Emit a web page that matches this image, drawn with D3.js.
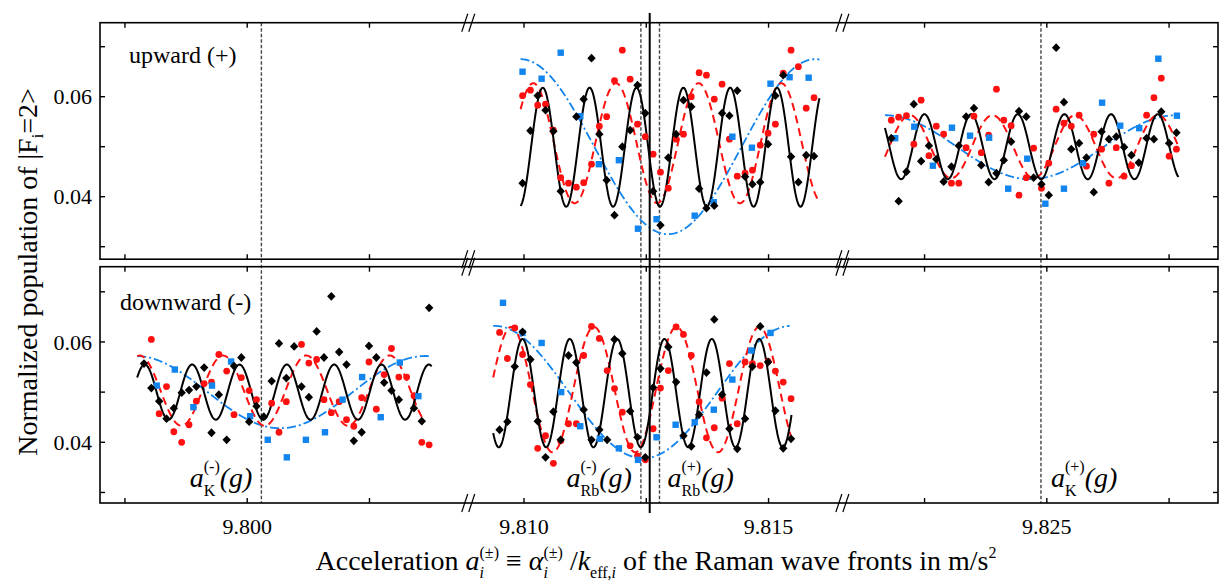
<!DOCTYPE html>
<html><head><meta charset="utf-8">
<script src="https://cdn.jsdelivr.net/npm/d3@7"></script>
<style>
body{margin:0;background:#fff}
svg{display:block}
text{font-family:"Liberation Serif","Times New Roman",serif;fill:#000}
</style>
</head><body>
<svg id="chart" width="1220" height="584" font-family="Liberation Serif, Times New Roman, serif"></svg>
<script>
// ---------------- DATA ----------------
// broken x axis: three segments (m/s^2)
const xSegments = [[9.79699, 9.80453], [9.80887, 9.81652], [9.82083, 9.82850]];
const yDomainUp = [0.0275, 0.0748];
const yDomainDown = [0.0279, 0.0750];
const xTicks = [9.7975, 9.800, 9.8025, 9.810, 9.8125, 9.815, 9.8225, 9.825, 9.8275];
const xTickLabels = ["", "9.800", "", "9.810", "", "9.815", "", "9.825", ""];
const yTicks = [0.03, 0.04, 0.05, 0.06, 0.07];
const yTickLabels = ["", "0.04", "", "0.06", ""];
// reference accelerations
const refDashed = [9.80029, 9.81239, 9.81277, 9.82488];
const refSolid = 9.81257;

// ---- upward (+), middle segment ----
const upSeg2X = [9.80997,9.81013,9.81028,9.81044,9.81060,9.81075,9.81091,9.81107,9.81122,9.81138,9.81154,9.81169,9.81185,9.81201,9.81217,9.81232,9.81248,9.81264,9.81279,9.81295,9.81311,9.81326,9.81342,9.81358,9.81373,9.81389,9.81405,9.81420,9.81436,9.81452,9.81467,9.81483,9.81499,9.81514,9.81530,9.81546,9.81561,9.81577,9.81593];
const upSeg2Black = [0.0427,0.0532,0.0602,0.0573,0.0531,0.0411,null,0.0560,0.0595,0.0677,0.0525,0.0433,0.0363,0.0500,0.0533,0.0623,0.0567,0.0411,0.0343,0.0478,0.0525,0.0593,0.0580,0.0416,0.0377,0.0382,0.0567,0.0562,0.0612,0.0440,0.0425,0.0429,0.0505,0.0602,0.0643,0.0480,0.0429,0.0483,0.0481];
const upSeg2Red = [0.0602,0.0613,0.0583,0.0585,0.0533,0.0438,0.0427,0.0419,0.0428,0.0465,0.0541,0.0560,0.0632,0.0693,0.0635,0.0545,0.0520,0.0485,0.0449,0.0417,0.0515,0.0525,0.0600,0.0648,0.0643,0.0595,0.0625,0.0515,0.0441,0.0447,0.0453,0.0503,0.0527,0.0545,0.0647,0.0693,0.0660,0.0577,0.0598];
const upSeg2BlueX = [9.80997,9.81036,9.81075,9.81115,9.81153,9.81194,9.81233,9.81271,9.81349,9.81388,9.81426,9.81466,9.81504,9.81543,9.81582];
const upSeg2Blue = [0.0650,0.0636,0.0688,0.0561,0.0465,0.0473,0.0336,0.0355,0.0362,0.0389,0.0520,0.0498,0.0626,0.0639,0.0638];

// ---- upward (+), right segment ----
const upSeg3X = [9.82182,9.82197,9.82213,9.82228,9.82243,9.82259,9.82274,9.82289,9.82305,9.82320,9.82335,9.82351,9.82366,9.82381,9.82397,9.82412,9.82427,9.82443,9.82458,9.82473,9.82489,9.82504,9.82519,9.82535,9.82550,9.82566,9.82581,9.82596,9.82612,9.82627,9.82642,9.82658,9.82673,9.82688,9.82704,9.82719,9.82734,9.82750,9.82765];
const upSeg3Black = [0.0517,0.0391,0.0450,0.0585,0.0471,0.0502,0.0475,0.0430,0.0460,0.0502,0.0560,0.0577,0.0463,0.0429,0.0447,0.0473,0.0510,0.0571,0.0560,0.0438,0.0425,0.0403,0.0698,0.0589,0.0495,0.0507,0.0478,0.0409,0.0530,0.0515,0.0520,0.0499,0.0483,0.0468,0.0517,0.0515,0.0570,0.0507,0.0528];
const upSeg3Red = [0.0553,0.0559,0.0562,0.0505,0.0593,0.0482,0.0541,0.0525,0.0427,0.0427,0.0498,0.0561,0.0488,0.0523,0.0615,0.0553,0.0542,0.0403,0.0438,0.0497,0.0417,0.0467,0.0575,0.0547,0.0541,0.0563,0.0461,0.0525,0.0495,0.0427,0.0498,0.0441,0.0462,null,0.0563,0.0598,0.0637,0.0481,0.0495];
const upSeg3BlueX = [9.82190,9.82229,9.82267,9.82306,9.82343,9.82382,9.82421,9.82460,9.82497,9.82535,9.82574,9.82613,9.82650,9.82689,9.82728,9.82766];
const upSeg3Blue = [0.0517,0.0540,0.0462,0.0538,0.0522,0.0518,0.0416,0.0476,0.0386,0.0416,0.0467,0.0588,0.0542,0.0537,0.0676,0.0562];

// ---- downward (-), left segment ----
const loSeg1X = [9.79789,9.79804,9.79820,9.79835,9.79850,9.79866,9.79881,9.79896,9.79912,9.79927,9.79942,9.79958,9.79973,9.79988,9.80004,9.80019,9.80034,9.80050,9.80065,9.80080,9.80096,9.80111,9.80126,9.80142,9.80157,9.80172,9.80188,9.80203,9.80218,9.80234,9.80249,9.80264,9.80280,9.80295,9.80310,9.80326,9.80341,9.80357,9.80372];
const loSeg1Black = [0.0557,0.0508,0.0482,0.0447,0.0468,0.0499,0.0504,0.0511,0.0549,0.0419,0.0495,0.0405,0.0552,0.0569,0.0441,0.0472,0.0451,0.0522,0.0597,0.0528,0.0591,0.0511,0.0490,0.0621,0.0569,0.0691,0.0580,0.0555,0.0403,0.0420,0.0592,0.0569,0.0519,0.0503,0.0485,null,0.0468,0.0442,0.0668];
const loSeg1Red = [null,0.0605,0.0457,0.0511,0.0421,0.0400,0.0435,0.0482,0.0517,0.0520,0.0575,0.0542,0.0455,0.0529,0.0503,0.0485,null,0.0478,0.0420,0.0481,null,0.0595,0.0558,0.0565,0.0485,0.0459,0.0481,0.0445,0.0432,0.0489,0.0560,0.0466,0.0535,0.0587,0.0530,0.0530,0.0493,0.0400,0.0395];
const loSeg1BlueX = [9.79815,9.79852,9.79890,9.79928,9.79967,9.80006,9.80042,9.80081,9.80120,9.80159,9.80195,9.80235,9.80273,9.80312,9.80350];
const loSeg1Blue = [0.0513,0.0545,0.0470,0.0513,0.0561,0.0452,0.0405,0.0370,0.0405,0.0420,0.0485,0.0530,0.0450,0.0559,0.0492];

// ---- downward (-), middle segment ----
const loSeg2X = [9.80950,9.80966,9.80981,9.80997,9.81013,9.81028,9.81044,9.81060,9.81075,9.81091,9.81107,9.81122,9.81138,9.81154,9.81170,9.81185,9.81201,9.81217,9.81232,9.81248,9.81264,9.81279,9.81295,9.81311,9.81326,9.81342,9.81358,9.81373,9.81389,9.81405,9.81420,9.81436,9.81452,9.81467,9.81483,9.81499,9.81514,9.81530,9.81546];
const loSeg2Black = [0.0425,0.0441,0.0551,0.0620,0.0565,0.0442,0.0370,0.0461,0.0405,0.0573,0.0559,0.0465,0.0405,0.0425,0.0405,0.0605,0.0577,0.0462,0.0410,0.0370,0.0509,0.0547,0.0590,0.0520,0.0413,0.0392,0.0455,0.0539,0.0645,0.0495,0.0427,0.0387,0.0447,0.0551,0.0631,0.0560,0.0463,0.0388,0.0407];
const loSeg2Red = [0.0619,0.0567,0.0628,0.0575,0.0515,0.0388,0.0413,0.0358,0.0403,0.0437,0.0437,0.0573,0.0631,0.0607,0.0543,0.0507,0.0460,0.0393,0.0373,0.0365,0.0427,0.0508,0.0543,0.0630,0.0615,0.0573,0.0481,0.0409,0.0429,0.0488,0.0557,0.0437,0.0560,0.0557,0.0553,0.0561,0.0542,0.0520,0.0487];
const loSeg2BlueX = [9.80957,9.80997,9.81036,9.81076,9.81115,9.81155,9.81194,9.81233,9.81271,9.81310,9.81349,9.81388,9.81426,9.81465,9.81504];
const loSeg2Blue = [0.0678,0.0618,0.0598,0.0500,0.0432,0.0407,0.0388,0.0365,0.0410,0.0435,0.0440,0.0465,0.0525,0.0583,0.0618];

// fitted fringes: [offset, amplitude, period, position of a maximum, x start, x end]
const upFitBlack2 = [0.0499, 0.0119, 0.000958, 9.81230, 9.80993, 9.81604];
const upFitRed2   = [0.0507, 0.0120, 0.00169, 9.81188, 9.80993, 9.81604];
const upFitBlue2  = [0.0500, 0.0175, 0.006026, 9.80993, 9.80993, 9.81604];
const upFitBlack3 = [0.0500, 0.0065, 0.000954, 9.82536, 9.82169, 9.82769];
const upFitRed3   = [0.0500, 0.0063, 0.00169, 9.82727, 9.82169, 9.82769];
const upFitBlue3  = [0.0499, 0.0064, 0.005965, 9.82168, 9.82169, 9.82769];
const loFitBlack1 = [0.0500, 0.0055, 0.000968, 9.80081, 9.79775, 9.80377];
const loFitRed1   = [0.0503, 0.0070, 0.001704, 9.80121, 9.79775, 9.80363];
const loFitBlue1  = [0.0500, 0.0072, 0.00593, 9.79771, 9.79775, 9.80374];
const loFitBlack2 = [0.0498, 0.0108, 0.000968, 9.81384, 9.80937, 9.81547];
const loFitRed2   = [0.0505, 0.0125, 0.00169, 9.81312, 9.80937, 9.81547];
const loFitBlue2  = [0.0500, 0.0132, 0.00607, 9.80940, 9.80937, 9.81543];

// ---------------- LAYOUT ----------------
const FONT = "Liberation Serif, Times New Roman, serif";
const NB = "\u00a0";
const svg = d3.select("#chart");
const L = 100, R = 1218;
const panels = [
  {name:"upward" + NB + "(+)", top:22.7, bottom:259.2, dom:yDomainUp, lx:129, ly:63},
  {name:"downward" + NB + "(-)", top:266.7, bottom:503, dom:yDomainDown, lx:120, ly:310}
];
const COL = {black:"#000000", red:"#ff1010", blue:"#1184ee"};

// piecewise x scale
const totalSpan = d3.sum(xSegments, d => d[1]-d[0]);
let acc = L;
const segScales = xSegments.map(d => {
  const w = (d[1]-d[0]) / totalSpan * (R-L);
  const s = d3.scaleLinear().domain(d).range([acc, acc+w]);
  acc += w;
  return s;
});
const breaks = segScales.slice(0,-1).map(s => s.range()[1]);
function X(v){
  for (const s of segScales){
    const d = s.domain();
    if (v >= d[0]-1e-9 && v <= d[1]+1e-9) return s(v);
  }
  return null;
}
panels.forEach(p => { p.y = d3.scaleLinear().domain(p.dom).range([p.bottom, p.top]); });

// ---------------- REFERENCE LINES ----------------
const gRef = svg.append("g");
refDashed.forEach(v => {
  gRef.append("line").attr("x1", X(v)).attr("x2", X(v))
    .attr("y1", panels[0].top).attr("y2", panels[1].bottom)
    .attr("stroke", "#444").attr("stroke-width", 1.4).attr("stroke-dasharray", "3.5,2");
});

// ---------------- CURVES + POINTS ----------------
function fitLine(g, panel, fit, color, dash, width){
  const [off, amp, per, pk, x0, x1] = fit;
  const xs = d3.range(0, 401).map(i => x0 + (x1-x0)*i/400);
  const line = d3.line().x(d => X(d)).y(d => panel.y(off + amp*Math.cos(2*Math.PI*(d-pk)/per)));
  g.append("path").attr("d", line(xs)).attr("fill","none").attr("stroke", color)
    .attr("stroke-width", width).attr("stroke-dasharray", dash);
}
function pts(g, panel, xs, ys, kind){
  const data = xs.map((x,i) => [x, ys[i]]).filter(d => d[1] != null);
  if (kind === "circle"){
    g.selectAll(null).data(data).enter().append("circle")
      .attr("cx", d => X(d[0])).attr("cy", d => panel.y(d[1])).attr("r", 3.4).attr("fill", COL.red);
  } else if (kind === "square"){
    g.selectAll(null).data(data).enter().append("rect")
      .attr("x", d => X(d[0])-3.2).attr("y", d => panel.y(d[1])-3.2)
      .attr("width", 6.4).attr("height", 6.4).attr("fill", COL.blue);
  } else {
    g.selectAll(null).data(data).enter().append("path")
      .attr("d", "M0,-4.4L4.2,0L0,4.4L-4.2,0Z")
      .attr("transform", d => `translate(${X(d[0])},${panel.y(d[1])})`).attr("fill", COL.black);
  }
}
const gData = svg.append("g");
const up = panels[0], lo = panels[1];
const blueDash = "9,3,2,3", redDash = "8,5";
[[up, upFitBlue2], [up, upFitBlue3], [lo, loFitBlue1], [lo, loFitBlue2]].forEach(([p,f]) => fitLine(gData, p, f, COL.blue, blueDash, 1.8));
[[up, upFitRed2], [up, upFitRed3], [lo, loFitRed1], [lo, loFitRed2]].forEach(([p,f]) => fitLine(gData, p, f, COL.red, redDash, 2));
[[up, upFitBlack2], [up, upFitBlack3], [lo, loFitBlack1], [lo, loFitBlack2]].forEach(([p,f]) => fitLine(gData, p, f, COL.black, null, 2));

pts(gData, up, upSeg2X, upSeg2Red, "circle");
pts(gData, up, upSeg3X, upSeg3Red, "circle");
pts(gData, lo, loSeg1X, loSeg1Red, "circle");
pts(gData, lo, loSeg2X, loSeg2Red, "circle");
pts(gData, up, upSeg2BlueX, upSeg2Blue, "square");
pts(gData, up, upSeg3BlueX, upSeg3Blue, "square");
pts(gData, lo, loSeg1BlueX, loSeg1Blue, "square");
pts(gData, lo, loSeg2BlueX, loSeg2Blue, "square");
pts(gData, up, upSeg2X, upSeg2Black, "diamond");
pts(gData, up, upSeg3X, upSeg3Black, "diamond");
pts(gData, lo, loSeg1X, loSeg1Black, "diamond");
pts(gData, lo, loSeg2X, loSeg2Black, "diamond");

// solid line
svg.append("line").attr("x1", X(refSolid)).attr("x2", X(refSolid)).attr("y1", 13).attr("y2", 513)
  .attr("stroke", "#000").attr("stroke-width", 2);

// ---------------- FRAMES, TICKS ----------------
const gAx = svg.append("g");
const TL = 5;
function label(g, x, y, txt, size, anchor){
  return g.append("text").attr("x", x).attr("y", y).attr("font-family", FONT)
    .attr("font-size", size).attr("text-anchor", anchor || "start").text(txt);
}
panels.forEach(p => {
  gAx.append("rect").attr("x", L).attr("y", p.top).attr("width", R-L).attr("height", p.bottom-p.top)
    .attr("fill", "none").attr("stroke", "#000").attr("stroke-width", 1.6);
  xTicks.forEach(t => {
    const x = X(t);
    gAx.append("line").attr("x1", x).attr("x2", x).attr("y1", p.top).attr("y2", p.top+TL).attr("stroke","#000").attr("stroke-width",1.4);
    gAx.append("line").attr("x1", x).attr("x2", x).attr("y1", p.bottom).attr("y2", p.bottom-TL).attr("stroke","#000").attr("stroke-width",1.4);
  });
  yTicks.forEach((t,i) => {
    const y = p.y(t);
    gAx.append("line").attr("x1", L).attr("x2", L+TL).attr("y1", y).attr("y2", y).attr("stroke","#000").attr("stroke-width",1.4);
    gAx.append("line").attr("x1", R).attr("x2", R-TL).attr("y1", y).attr("y2", y).attr("stroke","#000").attr("stroke-width",1.4);
    if (yTickLabels[i]) label(gAx, 92, y, yTickLabels[i], 22, "end").attr("dy", "0.35em");
  });
  // axis breaks
  [p.top, p.bottom].forEach(yy => {
    breaks.forEach(bx => {
      [-4, 3].forEach(o => {
        gAx.append("line").attr("x1", bx+o-3).attr("y1", yy+9).attr("x2", bx+o+3).attr("y2", yy-9)
          .attr("stroke","#000").attr("stroke-width",1.2);
      });
    });
  });
  label(gAx, p.lx, p.ly, p.name, 24);
});
xTicks.forEach((t,i) => {
  if (xTickLabels[i]) label(gAx, X(t), 534, xTickLabels[i], 22, "middle");
});

// ---------------- RICH TEXT ----------------
function rich(g, x, y, parts, anchor, rot){
  const grp = g.append("g");
  const inner = grp.append("g");
  let cx = 0, prevStart = 0, prevW = 0;
  parts.forEach(p => {
    const sx = p.stack ? prevStart : cx;
    const t = inner.append("text").attr("x", sx).attr("y", p.dy || 0).attr("font-size", p.fs)
      .attr("font-family", FONT)
      .attr("font-style", p.it ? "italic" : "normal").text(p.t.replace(/ /g, NB));
    const w = t.node().getComputedTextLength();
    if (p.stack) cx = prevStart + Math.max(prevW, w);
    else { prevStart = sx; prevW = w; cx = sx + w; }
  });
  const off = anchor === "middle" ? -cx/2 : anchor === "end" ? -cx : 0;
  inner.attr("transform", `translate(${off},0)`);
  grp.attr("transform", `translate(${x},${y})` + (rot ? ` rotate(${rot})` : ""));
  return grp;
}
const gT = svg.append("g");
// y title
rich(gT, 37, 272, [
  {t:"Normalized population of |F", fs:28},
  {t:"i", fs:16, dy:6},
  {t:"=2>", fs:28}
], "middle", -90);
// x title
rich(gT, 656, 570, [
  {t:"Acceleration ", fs:28},
  {t:"a", fs:28, it:true},
  {t:"(±)", fs:16, dy:-12},
  {t:"i", fs:16, dy:8, it:true, stack:true},
  {t:" ≡ ", fs:28},
  {t:"α", fs:28, it:true},
  {t:"(±)", fs:16, dy:-12},
  {t:"i", fs:16, dy:8, it:true, stack:true},
  {t:" /", fs:28},
  {t:"k", fs:28, it:true},
  {t:"eff,", fs:16, dy:8},
  {t:"i", fs:16, dy:8, it:true},
  {t:" of the Raman wave fronts in m/s", fs:28},
  {t:"2", fs:16, dy:-12}
], "middle");

// annotations a(g)
function annot(x, anchor, sub, sup){
  rich(gT, x, 487, [
    {t:"a", fs:28, it:true},
    {t:sup, fs:16, dy:-15},
    {t:sub, fs:16, dy:9, stack:true},
    {t:"(g)", fs:28, it:true}
  ], anchor);
}
annot(X(refDashed[0]) - 9, "end", "K", "(-)");
annot(X(refDashed[1]) - 9, "end", "Rb", "(-)");
annot(X(refDashed[2]) + 8, "start", "Rb", "(+)");
annot(X(refDashed[3]) + 10, "start", "K", "(+)");
</script>
</body></html>
